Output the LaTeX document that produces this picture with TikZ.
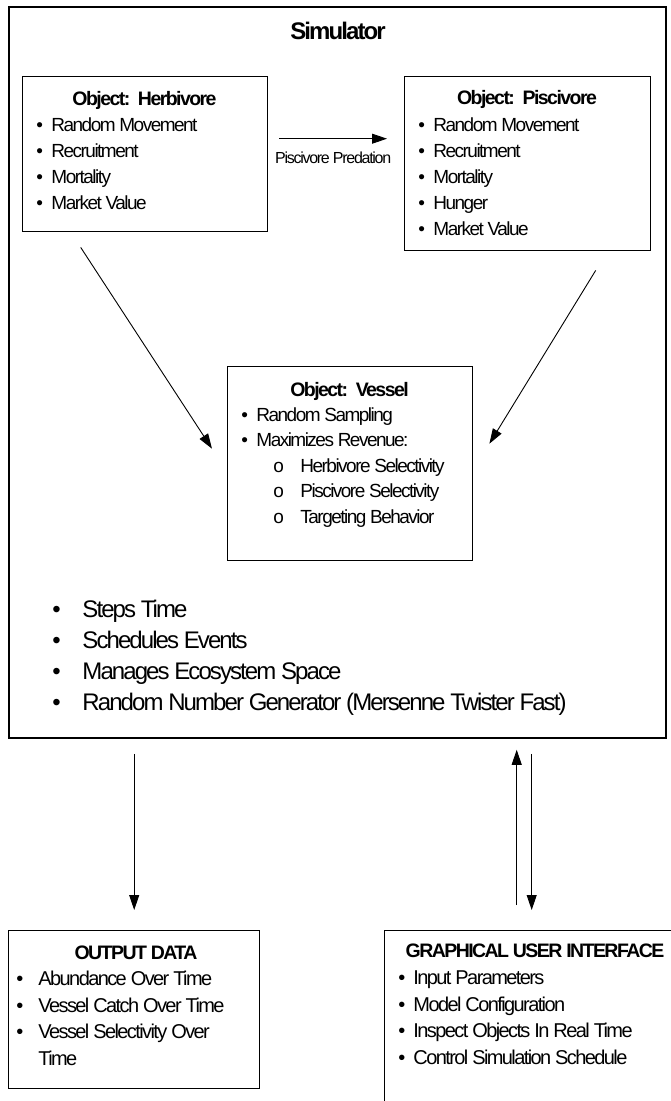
\documentclass[tikz,border=0pt]{standalone}
\usepackage{fontspec}
\setmainfont{Liberation Sans}[LetterSpace=-8]
\usetikzlibrary{calc,positioning,arrows.meta}

\newcommand{\bul}[1][15pt]{\makebox[#1][l]{\textbullet}}
\newcommand{\subbul}{\hspace*{32pt}\makebox[27pt][l]{o}}

\begin{document}
\begin{tikzpicture}[x=1pt, y=-1pt, >={Triangle[length=15pt,width=10pt]},
    line width=0.9pt,
    box/.style={draw, line width=1.4pt, anchor=north west, inner sep=0pt},
    head/.style={font=\bfseries\fontsize{19.5}{22}\selectfont, anchor=base, inner sep=0pt},
    items/.style={align=left, anchor=north west, inner sep=0pt,
        font=\fontsize{19}{26}\selectfont}]

    \useasboundingbox (0,0) rectangle (671,1101);

    % simulator
    \node[box, line width=1.8pt, minimum width=657pt, minimum height=731pt] (sim) at (8,6) {};
    \node[font=\bfseries\fontsize{24}{28}\selectfont] (title) at (338,31) {Simulator};

    \node[box, minimum width=245pt, minimum height=155pt] (herb) at (22,76) {};
    \node[head] (herbhead) at (144.5,105) {Object:\ \ Herbivore};
    \node[items] (herblist) at (36,116.8) {\bul Random Movement\\ \bul Recruitment\\
        \bul Mortality\\ \bul Market Value};

    \node[box, minimum width=246pt, minimum height=174pt] (pisc) at (404,76) {};
    \node[head] (pischead) at (527,104) {Object:\ \ Piscivore};
    \node[items] (pisclist) at (418,116.8) {\bul Random Movement\\ \bul Recruitment\\
        \bul Mortality\\ \bul Hunger\\ \bul Market Value};

    \node[box, minimum width=245pt, minimum height=194pt] (vessel) at (227,366) {};
    \node[head] (vesselhead) at (349.5,396) {Object:\ \ Vessel};
    \node[items, font=\fontsize{19}{25.5}\selectfont] (vessellist) at (241,406.8)
        {\bul Random Sampling\\ \bul Maximizes Revenue:\\ \subbul Herbivore Selectivity\\
        \subbul Piscivore Selectivity\\ \subbul Targeting Behavior};

    \node[items, font=\fontsize{24}{31}\selectfont] (simlist) at (52,600.1)
        {\bul[30pt]Steps Time\\ \bul[30pt]Schedules Events\\ \bul[30pt]Manages Ecosystem Space\\
        \bul[30pt]Random Number Generator (Mersenne Twister Fast)};

    \draw[->] ([xshift=11pt,yshift=15.5pt]herb.east) -- ([xshift=-17pt,yshift=25pt]pisc.west)
        node[midway, below=13.2pt, inner sep=0pt, font=\fontsize{16}{18}\selectfont] (pred) {Piscivore Predation};
    \draw[->] ([xshift=-64.5pt,yshift=-15pt]herb.south) -- ([xshift=-15pt,yshift=15pt]vessel.west);
    \draw[->] ([xshift=68pt,yshift=-19pt]pisc.south) -- ([xshift=16pt,yshift=20pt]vessel.east);

    % outside
    \node[box, minimum width=251pt, minimum height=158pt] (out) at (8,930) {};
    \node[head] (outhead) at (136,959) {OUTPUT DATA};
    \node[items, font=\fontsize{20}{26.5}\selectfont] (outlist) at (16,970.7)
        {\bul[22pt]Abundance Over Time\\ \bul[22pt]Vessel Catch Over Time\\
        \bul[22pt]Vessel Selectivity Over\\ \hspace*{22pt}Time};

    \node[box, minimum width=306pt, minimum height=190pt] (gui) at (384,930) {};
    \node[head] (guihead) at (535,957) {GRAPHICAL USER INTERFACE};
    \node[items, font=\fontsize{20}{26.5}\selectfont] (guilist) at (398,970.7)
        {\bul Input Parameters\\ \bul Model Configuration\\
        \bul Inspect Objects In Real Time\\ \bul Control Simulation Schedule};

    \draw[->] (out.north |- sim.south) ++(0,15) -- ([yshift=20pt]out.north);
    \draw[->] ($(gui.north)+(-21,-25)$) -- ($(gui.north |- sim.south)+(-21,11)$);
    \draw[->] ($(gui.north |- sim.south)+(-6,15)$) -- ($(gui.north)+(-6,-20)$);
\end{tikzpicture}
\end{document}
